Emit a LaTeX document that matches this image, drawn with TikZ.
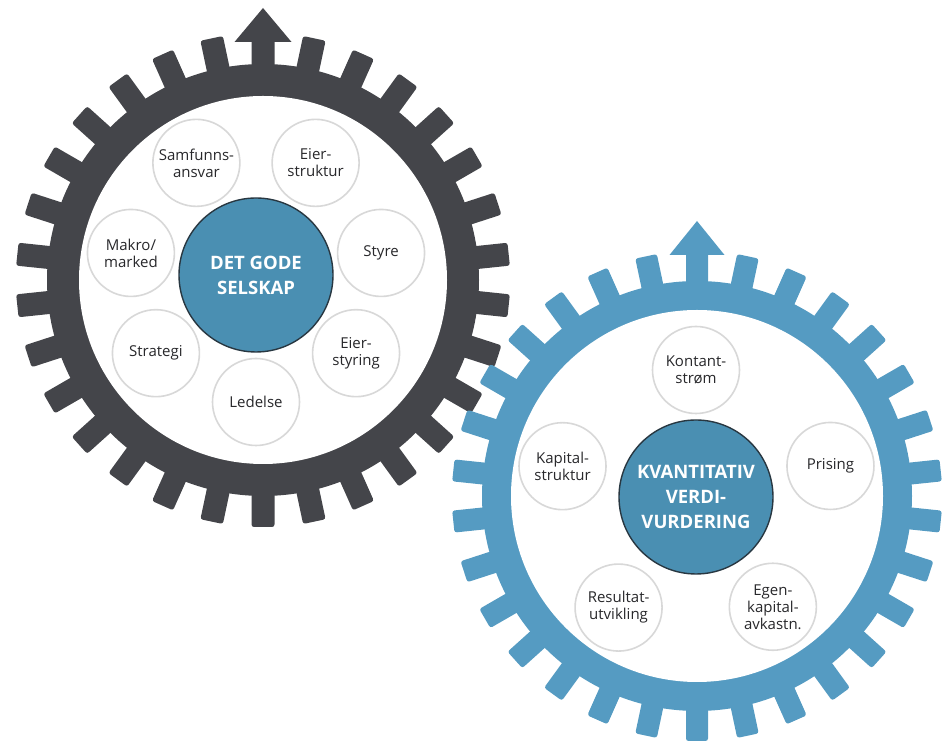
\documentclass[tikz,border=0pt]{standalone}
\usepackage{fontspec}
\setmainfont{Open Sans}
\usetikzlibrary{positioning}
\definecolor{gearDark}{RGB}{68,69,74}
\definecolor{gearBlue}{RGB}{85,155,194}
\definecolor{hubBlue}{RGB}{74,143,178}
\definecolor{hubLine}{RGB}{40,55,65}
\definecolor{ringGray}{RGB}{216,216,216}
\definecolor{labelText}{RGB}{40,40,43}

\begin{document}
\begin{tikzpicture}[x=1pt, y=1pt,
        hub/.style={circle, fill=hubBlue, draw=hubLine, line width=1.4pt,
            minimum size=154pt, inner sep=0pt, align=center, text=white,
            font=\fontsize{18.5}{25}\selectfont\bfseries},
        topic/.style={circle, fill=white, draw=ringGray, line width=1.6pt,
            minimum size=87pt, inner sep=0pt, align=center, text=labelText,
            font=\fontsize{15}{17}\selectfont}]
        \useasboundingbox (0,0) rectangle (946,741);

        % Dark gear
        \begin{scope}[shift={(263,461)}, gearDark]
            \fill (0,0) circle (216);
            \foreach \a in {1,...,29}
                \fill[rotate=12*\a, rounded corners=2.5pt] (-11.5,205) rectangle (11.5,247);
            \fill (-11.5,205) -- (-11.5,238) -- (-28.5,238) -- (0,272) -- (28.5,238) -- (11.5,238) -- (11.5,205) -- cycle;
            \fill[white] (0,0) circle (184);
        \end{scope}

        % Blue gear
        \begin{scope}[shift={(697,245)}, gearBlue]
            \fill (0,0) circle (215);
            \foreach \a in {1,...,29}
                \fill[rotate=12*\a, rounded corners=2.5pt] (-11,205) rectangle (11,245);
            \fill (-11,205) -- (-11,241) -- (-27.5,241) -- (0,275) -- (27.5,241) -- (11,241) -- (11,205) -- cycle;
            \fill[white] (0,0) circle (186);
        \end{scope}

        % Node definitions
        \node (selskap) [hub] at (256,466) {DET GODE\\SELSKAP};
        \node (samfunn) [topic] at ([shift={(118:127)}]selskap.center) {Samfunns-\\ansvar};
        \node (eierstruktur) [topic] at ([shift={(62:127)}]selskap.center) {Eier-\\struktur};
        \node (styre) [topic] at ([shift={(10:127)}]selskap.center) {Styre};
        \node (eierstyring) [topic] at ([shift={(-38:127)}]selskap.center) {Eier-\\styring};
        \node (ledelse) [topic] at ([shift={(-90:127)}]selskap.center) {Ledelse};
        \node (strategi) [topic] at ([shift={(218:127)}]selskap.center) {Strategi};
        \node (makro) [topic] at ([shift={(170:127)}]selskap.center) {Makro/\\marked};

        \node (verdi) [hub] at (696,244) {KVANTITATIV\\VERDI-\\VURDERING};
        \node (kontant) [topic] at ([shift={(90:127)}]verdi.center) {Kontant-\\strøm};
        \node (prising) [topic] at ([shift={(13:138)}]verdi.center) {Prising};
        \node (egenkapital) [topic] at ([shift={(-55:134)}]verdi.center) {Egen-\\kapital-\\avkastn.};
        \node (resultat) [topic] at ([shift={(-125:135)}]verdi.center) {Resultat-\\utvikling};
        \node (kapital) [topic] at ([shift={(167:137)}]verdi.center) {Kapital-\\struktur};

\end{tikzpicture}
\end{document}
